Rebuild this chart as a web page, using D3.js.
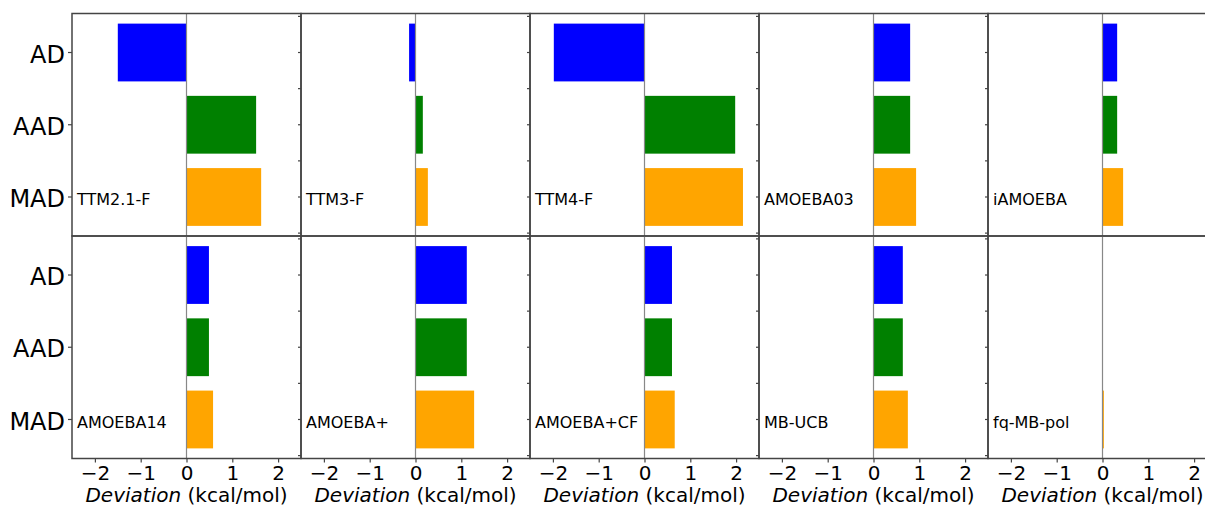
<!DOCTYPE html>
<html>
<head>
<meta charset="utf-8">
<script src="https://cdn.jsdelivr.net/npm/d3@7"></script>
<style>
  html, body { margin: 0; padding: 0; background: #fff; overflow: hidden; }
  svg { display: block; font-family: "DejaVu Sans", sans-serif; }
</style>
</head>
<body>
<svg id="chart" width="1205" height="506"></svg>
<script>
// Force-field models, one panel each (two rows of five)
const models = ["TTM2.1-F", "TTM3-F", "TTM4-F", "AMOEBA03", "iAMOEBA",
                "AMOEBA14", "AMOEBA+", "AMOEBA+CF", "MB-UCB", "fq-MB-pol"];
const metrics = ["AD", "AAD", "MAD"];
const metricColors = ["#0000ff", "#008000", "#ffa500"];

// Deviation statistics (kcal/mol) per model
const adValues  = [-1.50, -0.14, -1.98, 0.80, 0.32, 0.49, 1.12, 0.60, 0.64, 0.01];
const aadValues = [ 1.52,  0.16,  1.98, 0.80, 0.32, 0.49, 1.12, 0.60, 0.64, 0.01];
const madValues = [ 1.63,  0.27,  2.15, 0.93, 0.45, 0.58, 1.28, 0.66, 0.75, 0.03];

const xTicks = [-2, -1, 0, 1, 2];
const xDomain = [-2.5, 2.5];
const xLabelItalic = "Deviation";
const xLabelUnit = " (kcal/mol)";

const svg = d3.select("#chart");
const nCols = 5, nRows = 2;
const gridLeft = 72, gridTop = 13.5;
const panelW = 229, panelH = 222.5;
const spine = "#444";

const series = [adValues, aadValues, madValues];

// bars fill 80% of each category step, with a small margin above and below
const y = d3.scaleBand().domain(metrics).range([0, panelH])
  .paddingInner(0.2).paddingOuter(0.14);
// continuous version of the categorical axis, used for minor tick marks
const yCont = d3.scaleLinear().domain([-0.54, 2.54]).range([0, panelH]);

models.forEach((name, i) => {
  const col = i % nCols, row = Math.floor(i / nCols);
  const x0 = gridLeft + col * panelW, y0 = gridTop + row * panelH;
  const g = svg.append("g").attr("transform", `translate(${x0},${y0})`);
  const x = d3.scaleLinear().domain(xDomain).range([0, panelW]);

  const rows = metrics.map((m, k) => ({ metric: m, value: series[k][i], color: metricColors[k] }));

  g.selectAll("rect.bar").data(rows).join("rect")
    .attr("class", "bar")
    .attr("x", d => x(Math.min(0, d.value)))
    .attr("width", d => Math.abs(x(d.value) - x(0)))
    .attr("y", d => y(d.metric))
    .attr("height", y.bandwidth())
    .attr("fill", d => d.color);

  // zero reference line
  g.append("line")
    .attr("x1", x(0)).attr("x2", x(0))
    .attr("y1", 0).attr("y2", panelH)
    .attr("stroke", "#888").attr("stroke-width", 1.2);

  // model name
  g.append("text")
    .attr("x", 5)
    .attr("y", y("MAD") + y.bandwidth() / 2 + 8.5)
    .attr("font-size", 16)
    .attr("fill", "#000")
    .text(name);

  // minor marks on the inner spines
  if (col > 0) {
    g.selectAll("line.minor").data([-0.5, 0, 0.5, 1, 1.5, 2, 2.5]).join("line")
      .attr("class", "minor")
      .attr("x1", -3).attr("x2", 0)
      .attr("y1", d => yCont(d)).attr("y2", d => yCont(d))
      .attr("stroke", spine).attr("stroke-width", 1.2);
  }

  // y axis labels on the first column
  if (col === 0) {
    const yAxis = d3.axisLeft(y).tickSize(4).tickPadding(3);
    const ya = g.append("g").call(yAxis);
    ya.select(".domain").remove();
    ya.selectAll(".tick line").attr("stroke", spine).attr("stroke-width", 1.2);
    ya.selectAll(".tick text").attr("font-size", 24).attr("fill", "#000")
      .attr("dy", "0.42em")
      .attr("font-family", "DejaVu Sans, sans-serif");
  }

  // x axis on the bottom row
  if (row === nRows - 1) {
    const xAxis = d3.axisBottom(x).tickValues(xTicks).tickSize(4).tickPadding(3)
      .tickFormat(d3.format("d"));
    const xa = g.append("g").attr("transform", `translate(0,${panelH})`).call(xAxis);
    xa.select(".domain").remove();
    xa.selectAll(".tick line").attr("stroke", spine).attr("stroke-width", 1.2);
    xa.selectAll(".tick text").attr("font-size", 20).attr("fill", "#000")
      .attr("font-family", "DejaVu Sans, sans-serif");

    const lab = g.append("text")
      .attr("x", panelW / 2).attr("y", panelH + 43.5)
      .attr("text-anchor", "middle").attr("font-size", 20).attr("fill", "#000");
    lab.append("tspan").attr("font-style", "italic").text(xLabelItalic);
    lab.append("tspan").text(xLabelUnit);
  }

  // panel frame
  g.append("rect")
    .attr("x", 0).attr("y", 0).attr("width", panelW).attr("height", panelH)
    .attr("fill", "none").attr("stroke", spine).attr("stroke-width", 1.5);
});
</script>
</body>
</html>
